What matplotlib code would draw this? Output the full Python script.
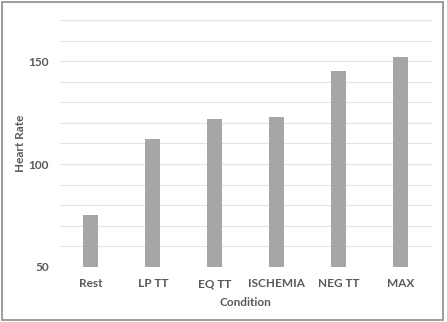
import matplotlib
matplotlib.use("Agg")
import matplotlib.pyplot as plt
from matplotlib.patches import Rectangle
import numpy as np

condiciones = ["Rest", "LP TT", "EQ TT", "ISCHEMIA", "NEG TT", "MAX"]
frecuencia = [75, 112, 122, 123, 145, 152]
ticks_y = [50, 100, 150]

plt.rcParams['font.family'] = ['Lato', 'DejaVu Sans']

fig = plt.figure(figsize=(4.47, 3.22), dpi=100)
ax = fig.add_axes([0.134, 0.171, 0.832, 0.767])

x = np.arange(len(condiciones))
ax.bar(x, frecuencia, width=0.24, color='#a6a6a6', zorder=3)

ax.set_xlim(-0.5, len(condiciones) - 0.5)
ax.set_ylim(50, 170)
ax.set_yticks(ticks_y)
ax.set_yticks(np.arange(50, 171, 10), minor=True)
ax.grid(True, axis='y', which='both', color='#e3e3e3', linewidth=0.8, zorder=0)
ax.set_xticks(x)
ax.set_xticklabels(condiciones)

for s in ax.spines.values():
    s.set_visible(False)
ax.tick_params(which='both', length=0, colors='#595959', labelsize=8.5, pad=8)
for lbl in ax.get_xticklabels() + ax.get_yticklabels():
    lbl.set_fontweight('bold')

ax.set_xlabel('Condition', fontsize=8.5, fontweight='bold', color='#595959', labelpad=6)
ax.set_ylabel('Heart Rate', fontsize=8.5, fontweight='bold', color='#595959', labelpad=2)

# marco
fig.patches.append(Rectangle((0.004, 0.006), 0.988, 0.988, transform=fig.transFigure,
                             fill=False, edgecolor='#8c8c8c', linewidth=1.2))

fig.savefig('out.png', dpi=100)
